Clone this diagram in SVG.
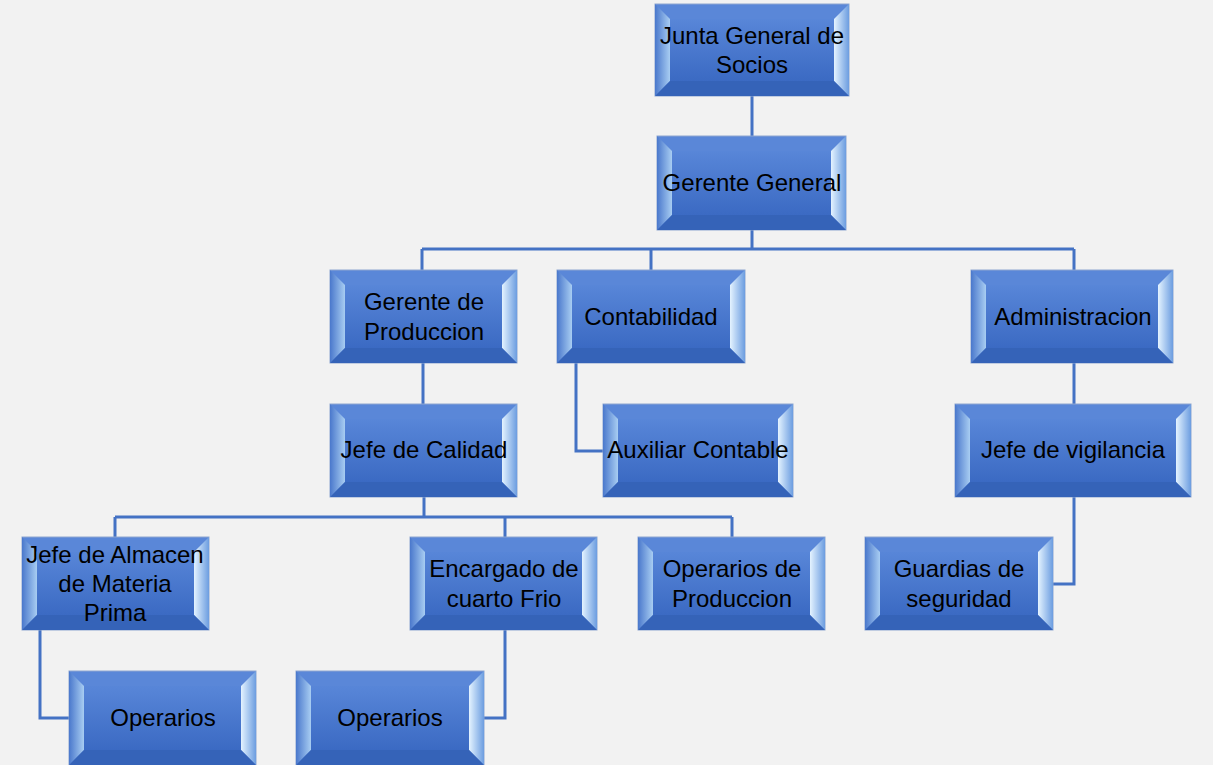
<svg xmlns="http://www.w3.org/2000/svg" width="1213" height="765" viewBox="0 0 1213 765">
<defs>
<linearGradient id="gFace" x1="0" y1="0" x2="0" y2="1"><stop offset="0" stop-color="#5886D8"/><stop offset="1" stop-color="#3B6AC3"/></linearGradient>
<linearGradient id="gLeft" x1="0" y1="0" x2="1" y2="0"><stop offset="0" stop-color="#4A78CC"/><stop offset="1" stop-color="#A8CDF2"/></linearGradient>
<linearGradient id="gRight" x1="0" y1="0" x2="1" y2="0"><stop offset="0" stop-color="#E4F3FF"/><stop offset="1" stop-color="#6C9DE0"/></linearGradient>
<style>
.bg{fill:#F2F2F2}
.top{fill:#5A87D8;stroke:#8EA6CF;stroke-width:1}
.l{fill:url(#gLeft)}
.r{fill:url(#gRight)}
.b{fill:#3563B8}
.f{fill:url(#gFace)}
.c{fill:none;stroke:#4472C4;stroke-width:3}
text{font-family:"Liberation Sans",Arial,sans-serif;font-size:24px;fill:#000;text-anchor:middle}
</style>
</defs>
<rect class="bg" x="0" y="0" width="1213" height="765"/>
<g id="connectors">
<path class="c" d="M752 96V136"/>
<path class="c" d="M752 230V249M422 249H1074M422 249V270M651 249V270M1074 249V270"/>
<path class="c" d="M423 363V404"/>
<path class="c" d="M576 363V451H603"/>
<path class="c" d="M1074 363V404"/>
<path class="c" d="M424 497V517M115 517H732M115 517V537M505 517V537M732 517V537"/>
<path class="c" d="M40 630V718H69"/>
<path class="c" d="M505 630V718H484"/>
<path class="c" d="M1074 497V584H1053"/>
</g>
<g id="n1">
<rect class="top" x="655" y="4" width="194" height="92"/>
<polygon class="l" points="655,4 670,19 670,81 655,96"/>
<polygon class="r" points="849,4 834,19 834,81 849,96"/>
<polygon class="b" points="655,96 849,96 834,81 670,81"/>
<rect class="f" x="670" y="19" width="164" height="62"/>
<text x="752" y="44">Junta General de</text>
<text x="752" y="73">Socios</text>
</g>
<g id="n2">
<rect class="top" x="657" y="136" width="189" height="94"/>
<polygon class="l" points="657,136 672,151 672,215 657,230"/>
<polygon class="r" points="846,136 831,151 831,215 846,230"/>
<polygon class="b" points="657,230 846,230 831,215 672,215"/>
<rect class="f" x="672" y="151" width="159" height="64"/>
<text x="752" y="191">Gerente General</text>
</g>
<g id="n3">
<rect class="top" x="330" y="270" width="187" height="93"/>
<polygon class="l" points="330,270 345,285 345,348 330,363"/>
<polygon class="r" points="517,270 502,285 502,348 517,363"/>
<polygon class="b" points="330,363 517,363 502,348 345,348"/>
<rect class="f" x="345" y="285" width="157" height="63"/>
<text x="424" y="310">Gerente de</text>
<text x="424" y="340">Produccion</text>
</g>
<g id="n4">
<rect class="top" x="557" y="270" width="188" height="93"/>
<polygon class="l" points="557,270 572,285 572,348 557,363"/>
<polygon class="r" points="745,270 730,285 730,348 745,363"/>
<polygon class="b" points="557,363 745,363 730,348 572,348"/>
<rect class="f" x="572" y="285" width="158" height="63"/>
<text x="651" y="325">Contabilidad</text>
</g>
<g id="n5">
<rect class="top" x="971" y="270" width="202" height="93"/>
<polygon class="l" points="971,270 986,285 986,348 971,363"/>
<polygon class="r" points="1173,270 1158,285 1158,348 1173,363"/>
<polygon class="b" points="971,363 1173,363 1158,348 986,348"/>
<rect class="f" x="986" y="285" width="172" height="63"/>
<text x="1073" y="325">Administracion</text>
</g>
<g id="n6">
<rect class="top" x="330" y="404" width="187" height="93"/>
<polygon class="l" points="330,404 345,419 345,482 330,497"/>
<polygon class="r" points="517,404 502,419 502,482 517,497"/>
<polygon class="b" points="330,497 517,497 502,482 345,482"/>
<rect class="f" x="345" y="419" width="157" height="63"/>
<text x="424" y="458">Jefe de Calidad</text>
</g>
<g id="n7">
<rect class="top" x="603" y="404" width="190" height="93"/>
<polygon class="l" points="603,404 618,419 618,482 603,497"/>
<polygon class="r" points="793,404 778,419 778,482 793,497"/>
<polygon class="b" points="603,497 793,497 778,482 618,482"/>
<rect class="f" x="618" y="419" width="160" height="63"/>
<text x="698" y="458">Auxiliar Contable</text>
</g>
<g id="n8">
<rect class="top" x="955" y="404" width="236" height="93"/>
<polygon class="l" points="955,404 970,419 970,482 955,497"/>
<polygon class="r" points="1191,404 1176,419 1176,482 1191,497"/>
<polygon class="b" points="955,497 1191,497 1176,482 970,482"/>
<rect class="f" x="970" y="419" width="206" height="63"/>
<text x="1073" y="458">Jefe de vigilancia</text>
</g>
<g id="n9">
<rect class="top" x="22" y="537" width="187" height="93"/>
<polygon class="l" points="22,537 37,552 37,615 22,630"/>
<polygon class="r" points="209,537 194,552 194,615 209,630"/>
<polygon class="b" points="22,630 209,630 194,615 37,615"/>
<rect class="f" x="37" y="552" width="157" height="63"/>
<text x="115" y="563">Jefe de Almacen</text>
<text x="115" y="592">de Materia</text>
<text x="115" y="621">Prima</text>
</g>
<g id="n10">
<rect class="top" x="410" y="537" width="187" height="93"/>
<polygon class="l" points="410,537 425,552 425,615 410,630"/>
<polygon class="r" points="597,537 582,552 582,615 597,630"/>
<polygon class="b" points="410,630 597,630 582,615 425,615"/>
<rect class="f" x="425" y="552" width="157" height="63"/>
<text x="504" y="577">Encargado de</text>
<text x="504" y="607">cuarto Frio</text>
</g>
<g id="n11">
<rect class="top" x="638" y="537" width="187" height="93"/>
<polygon class="l" points="638,537 653,552 653,615 638,630"/>
<polygon class="r" points="825,537 810,552 810,615 825,630"/>
<polygon class="b" points="638,630 825,630 810,615 653,615"/>
<rect class="f" x="653" y="552" width="157" height="63"/>
<text x="732" y="577">Operarios de</text>
<text x="732" y="607">Produccion</text>
</g>
<g id="n12">
<rect class="top" x="865" y="537" width="188" height="93"/>
<polygon class="l" points="865,537 880,552 880,615 865,630"/>
<polygon class="r" points="1053,537 1038,552 1038,615 1053,630"/>
<polygon class="b" points="865,630 1053,630 1038,615 880,615"/>
<rect class="f" x="880" y="552" width="158" height="63"/>
<text x="959" y="577">Guardias de</text>
<text x="959" y="607">seguridad</text>
</g>
<g id="n13">
<rect class="top" x="69" y="671" width="187" height="94"/>
<polygon class="l" points="69,671 84,686 84,750 69,765"/>
<polygon class="r" points="256,671 241,686 241,750 256,765"/>
<polygon class="b" points="69,765 256,765 241,750 84,750"/>
<rect class="f" x="84" y="686" width="157" height="64"/>
<text x="163" y="726">Operarios</text>
</g>
<g id="n14">
<rect class="top" x="296" y="671" width="188" height="94"/>
<polygon class="l" points="296,671 311,686 311,750 296,765"/>
<polygon class="r" points="484,671 469,686 469,750 484,765"/>
<polygon class="b" points="296,765 484,765 469,750 311,750"/>
<rect class="f" x="311" y="686" width="158" height="64"/>
<text x="390" y="726">Operarios</text>
</g>
</svg>
